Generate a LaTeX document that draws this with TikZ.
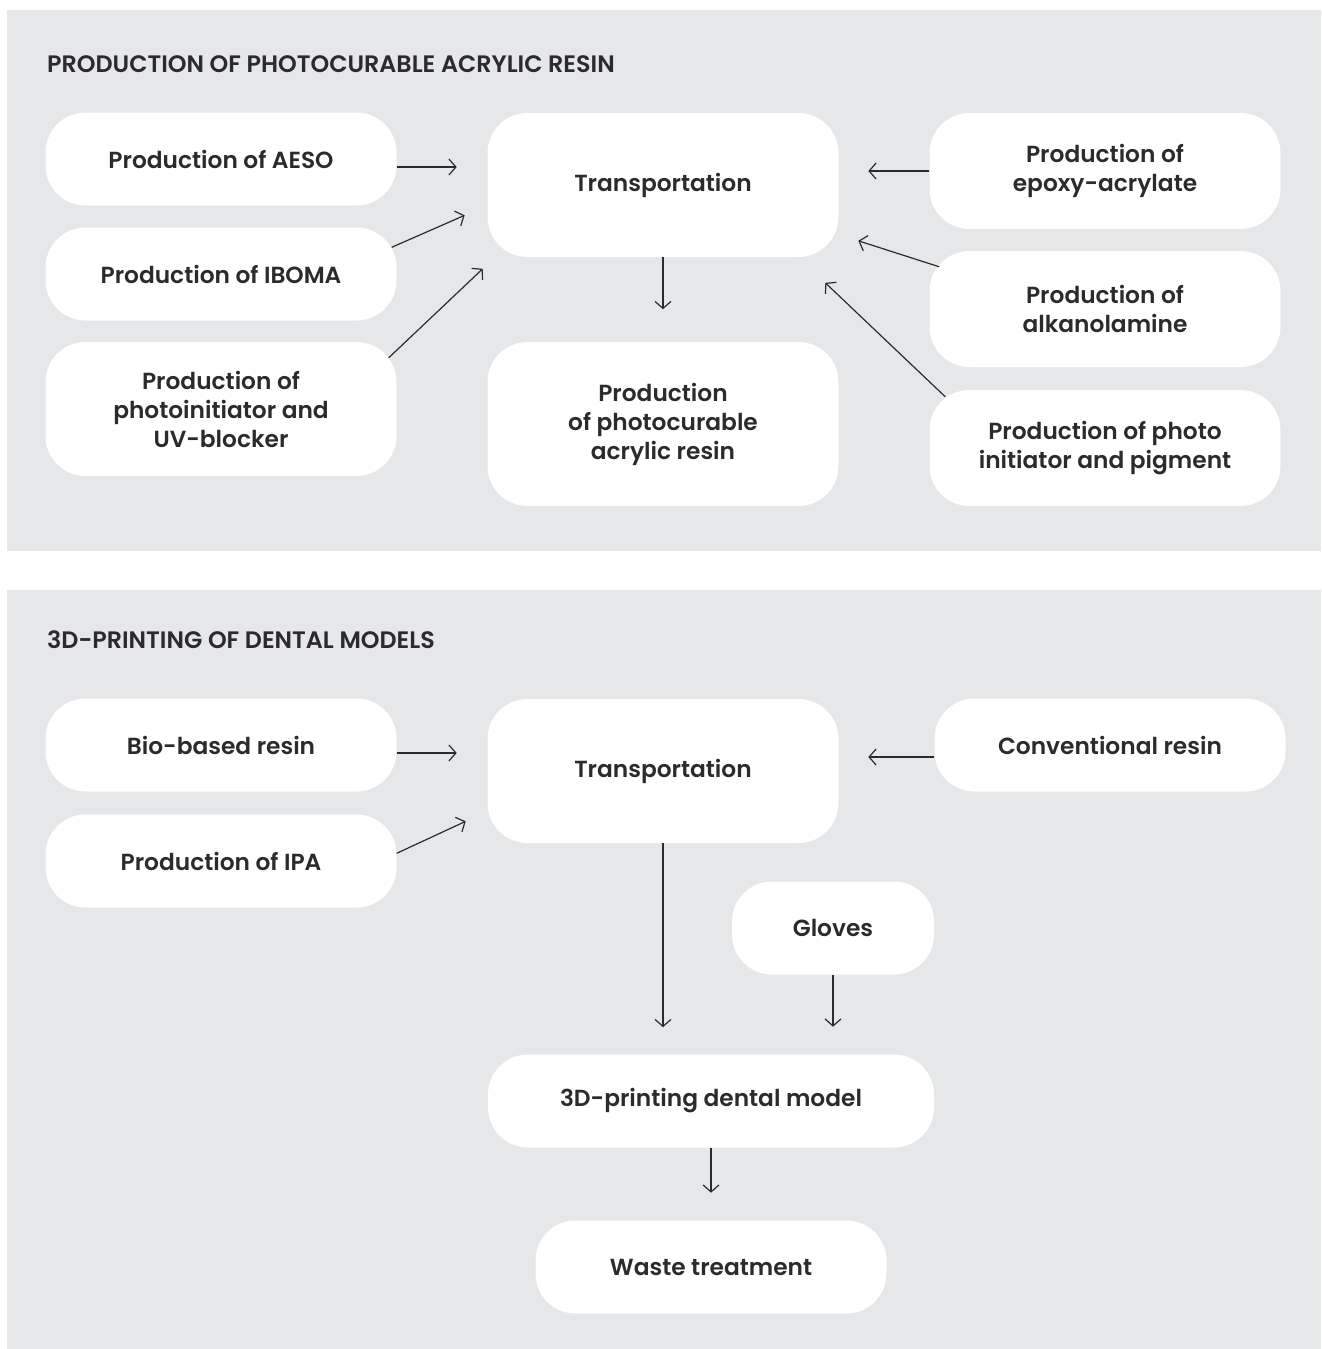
\documentclass[tikz,border=0pt]{standalone}
\usepackage{fontspec}
\setmainfont{Poppins}[BoldFont={Poppins SemiBold}]
\usetikzlibrary{arrows.meta}

\definecolor{panelgray}{HTML}{E6E7E9}
\definecolor{inkdark}{HTML}{2B2B2D}

\begin{document}
\begin{tikzpicture}
    [x=1pt, y=-1pt,
     box/.style={fill=white, rounded corners=40pt, minimum width=351pt,
       minimum height=93pt, inner sep=0pt, align=center, text=inkdark,
       font=\fontsize{23.3}{29}\selectfont\bfseries},
     panel title/.style={anchor=west, text=inkdark, inner sep=0pt,
       font=\fontsize{23.8}{27}\selectfont\bfseries},
     flow/.style={draw=inkdark, line width=1.2pt,
       -{Straight Barb[length=7pt, width=16pt]}}]
    \useasboundingbox (0, 0) rectangle (1322, 1349);
    \fill[white] (0, 0) rectangle (1322, 1349);
    % panels
    \fill[panelgray] (7, 10) rectangle (1321, 551);
    \fill[panelgray] (7, 590) rectangle (1321, 1349);
    \node[panel title] (title1) at (47, 64) {PRODUCTION OF PHOTOCURABLE ACRYLIC RESIN};
    \node[panel title] (title2) at (47, 640) {3D-PRINTING OF DENTAL MODELS};

    % production of photocurable acrylic resin
    \node[box] (aeso) at (221, 159) {Production of AESO};
    \node[box] (iboma) at (221, 274) {Production of IBOMA};
    \node[box, minimum height=134pt] (photoinit) at (221, 409)
      {Production of\\photoinitiator and\\UV-blocker};
    \node[box, minimum height=144pt] (trans1) at (663, 185) {Transportation};
    \node[box, minimum height=164pt] (resin) at (663, 424)
      {Production\\of photocurable\\acrylic resin};
    \node[box, minimum height=116pt] (epoxy) at (1105, 171)
      {Production of\\epoxy-acrylate};
    \node[box, minimum height=116pt] (alkanol) at (1105, 309)
      {Production of\\alkanolamine};
    \node[box, minimum height=116pt] (pigment) at (1105, 448)
      {Production of photo\\initiator and pigment};

    \draw[flow] ([yshift=-8]aeso.east) -- ++(60, 0);
    \draw[flow] ([xshift=-5, yshift=-20]iboma.north east) -- ++(73, -32);
    \draw[flow] ([xshift=-8, yshift=-16]photoinit.north east) -- ++(94, -89);
    \draw[flow] (epoxy.west) -- ++(-61, 0);
    \draw[flow] ([xshift=10, yshift=-16]alkanol.north west) -- ++(-81, -26);
    \draw[flow] ([xshift=16, yshift=-7]pigment.north west) -- ++(-120, -114);
    \draw[flow] (trans1.south) -- ++(0, 52);

    % 3d-printing of dental models
    \node[box] (bio) at (221, 745) {Bio-based resin};
    \node[box] (ipa) at (221, 861) {Production of IPA};
    \node[box, minimum height=144pt] (trans2) at (663, 771) {Transportation};
    \node[box] (conv) at (1110, 745) {Conventional resin};
    \node[box, minimum width=202pt] (gloves) at (833, 928) {Gloves};
    \node[box, minimum width=446pt] (print) at (711, 1101) {3D-printing dental model};
    \node[box] (waste) at (711, 1267) {Waste treatment};

    \draw[flow] ([yshift=-8]bio.east) -- ++(60, 0);
    \draw[flow] ([yshift=-39]ipa.north east) -- ++(69, -32);
    \draw[flow] ([yshift=-12]conv.west) -- ++(-66, 0);
    \draw[flow] (trans2.south) -- ++(0, 184);
    \draw[flow] (gloves.south) -- ++(0, 52);
    \draw[flow] (print.south) -- ++(0, 45);
\end{tikzpicture}
\end{document}
